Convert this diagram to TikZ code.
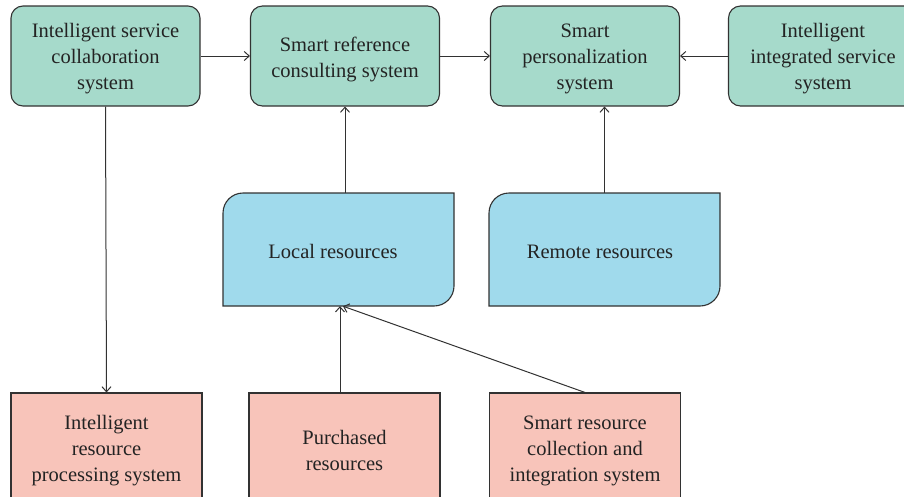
\documentclass[tikz,border=0pt]{standalone}
\usepackage{fontspec}
\setmainfont{Liberation Serif}
\usetikzlibrary{arrows.meta}
\definecolor{tealfill}{RGB}{166,218,203}
\definecolor{bluefill}{RGB}{160,218,236}
\definecolor{pinkfill}{RGB}{248,196,186}
\definecolor{linec}{RGB}{50,50,50}
\definecolor{textc}{RGB}{35,35,35}
\begin{document}
\begin{tikzpicture}[x=1pt,y=1pt,
  every node/.style={font=\fontsize{20.5}{26}\selectfont, text=textc, align=center},
  topbox/.style={draw=linec, line width=1.1pt, fill=tealfill, rounded corners=12pt,
    minimum width=189pt, minimum height=100pt, inner sep=0pt},
  botbox/.style={draw=linec, line width=1.1pt, fill=pinkfill,
    minimum width=191pt, minimum height=110pt, inner sep=0pt},
  resbox/.style={draw=linec, line width=1.1pt, fill=bluefill},
  conn/.style={draw=linec, line width=1pt, -{Straight Barb[length=5pt,width=9pt]}}]
\useasboundingbox (0,0) rectangle (904,-496);
\begin{scope}
\clip (0,0) rectangle (904,-496);
% top row
\node[topbox] (isc) at (105.5,-56) {};
\node[topbox] (src) at (345,-56) {};
\node[topbox] (sps) at (585,-56) {};
\node[topbox] (iis) at (823,-56) {};
\node (isct) at ([yshift=-3pt]isc.center) {Intelligent service\\collaboration\\system};
\node (srct) at ([yshift=-3pt]src.center) {Smart reference\\consulting system};
\node (spst) at ([yshift=-3pt]sps.center) {Smart\\personalization\\system};
\node (iist) at ([yshift=-3pt]iis.center) {Intelligent\\integrated service\\system};
% resource shapes
\filldraw[resbox] (223,-306) -- (223,-213) arc[start angle=180,end angle=90,radius=20]
  -- (454,-193) -- (454,-286) arc[start angle=0,end angle=-90,radius=20] -- cycle;
\filldraw[resbox] (489,-306) -- (489,-213) arc[start angle=180,end angle=90,radius=20]
  -- (720,-193) -- (720,-286) arc[start angle=0,end angle=-90,radius=20] -- cycle;
\node[minimum width=231pt, minimum height=113pt, inner sep=0pt] (loc) at (338.5,-249.5) {};
\node[minimum width=231pt, minimum height=113pt, inner sep=0pt] (rem) at (604.5,-249.5) {};
\node (loct) at (333,-251) {Local resources};
\node (remt) at (600,-252) {Remote resources};
% bottom row
\node[botbox] (irp) at (106.5,-448) {};
\node[botbox] (pur) at (344.5,-448) {};
\node[botbox] (srci) at (585,-448) {};
\node (irpt) at ([yshift=-3pt]irp.center) {Intelligent\\resource\\processing system};
\node (purt) at ([yshift=-2pt]pur.center) {Purchased\\resources};
\node (srcit) at ([yshift=-3pt]srci.center) {Smart resource\\collection and\\integration system};
\end{scope}
% connectors
\draw[conn] (isc.east) -- (src.west);
\draw[conn] (src.east) -- (sps.west);
\draw[conn] (iis.west) -- (sps.east);
\draw[conn] (loc.north -| src.south) -- (src.south);
\draw[conn] (rem.north) -- (rem.north |- sps.south);
\draw[conn] (isc.south) -- (irp.north);
\draw[conn] (pur.north -| 340,0) -- (loc.south -| 340,0);
\draw[conn] (srci.north) -- (loc.south -| 343,0);
\end{tikzpicture}
\end{document}
